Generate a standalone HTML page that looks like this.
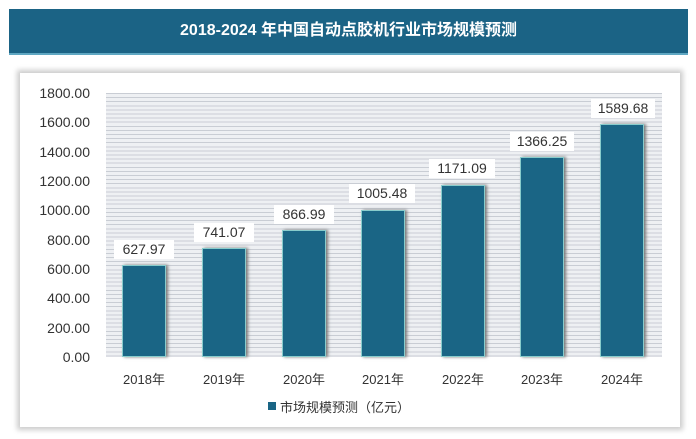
<!DOCTYPE html>
<html><head><meta charset="utf-8"><style>
body{margin:0;width:696px;height:439px;background:#fff;position:relative;overflow:hidden;font-family:"Liberation Sans","Noto Sans CJK SC",sans-serif;}
.title{position:absolute;left:9px;top:9px;width:679px;height:44px;background:#1b6385;border-bottom:2px solid #5fa7c2;color:#fff;font-weight:bold;font-size:16px;text-align:center;line-height:44px;}
.panel{position:absolute;left:20px;top:73px;width:660px;height:354px;background:#fff;box-shadow:0 0 5px 3px #ccc;}
.plot{position:absolute;left:106px;top:93px;width:556px;height:264px;background:repeating-linear-gradient(to bottom,#c9cdd4 0,#c9cdd4 1px,#eef0f3 1px,#eef0f3 4.1px);}
.yl{position:absolute;left:14px;width:76px;text-align:right;font-size:14px;color:#333;}
.bar{position:absolute;width:44px;background:#1a6585;box-shadow:2px 0 3px #777;border:1px solid #8cc;box-sizing:border-box;}
.lab{position:absolute;width:60px;height:19px;background:#fff;text-align:center;font-size:14px;line-height:19px;color:#333;}
.xl{position:absolute;top:369px;width:80px;text-align:center;font-size:13px;color:#333;}
</style></head><body>
<div class="title">2018-2024 年中国自动点胶机行业市场规模预测</div>
<div class="panel"></div>
<div class="plot"></div>
<div class="yl" style="top:85px">1800.00</div>
<div class="yl" style="top:114px">1600.00</div>
<div class="yl" style="top:144px">1400.00</div>
<div class="yl" style="top:173px">1200.00</div>
<div class="yl" style="top:202px">1000.00</div>
<div class="yl" style="top:232px">800.00</div>
<div class="yl" style="top:261px">600.00</div>
<div class="yl" style="top:290px">400.00</div>
<div class="yl" style="top:320px">200.00</div>
<div class="yl" style="top:349px">0.00</div>

<div class="bar" style="left:122px;top:265px;height:92px"></div>
<div class="bar" style="left:202px;top:248px;height:109px"></div>
<div class="bar" style="left:282px;top:230px;height:127px"></div>
<div class="bar" style="left:361px;top:210px;height:147px"></div>
<div class="bar" style="left:441px;top:185px;height:172px"></div>
<div class="bar" style="left:520px;top:157px;height:200px"></div>
<div class="bar" style="left:600px;top:124px;height:233px"></div>

<div class="lab" style="left:114px;top:240px">627.97</div>
<div class="lab" style="left:194px;top:223px">741.07</div>
<div class="lab" style="left:274px;top:205px">866.99</div>
<div class="lab" style="left:349px;top:184px;width:66px">1005.48</div>
<div class="lab" style="left:429px;top:159px;width:66px">1171.09</div>
<div class="lab" style="left:510px;top:132px;width:64px">1366.25</div>
<div class="lab" style="left:591px;top:99px;width:64px">1589.68</div>

<div class="xl" style="left:104px">2018年</div>
<div class="xl" style="left:184px">2019年</div>
<div class="xl" style="left:264px">2020年</div>
<div class="xl" style="left:343px">2021年</div>
<div class="xl" style="left:423px">2022年</div>
<div class="xl" style="left:502px">2023年</div>
<div class="xl" style="left:582px">2024年</div>

<div style="position:absolute;left:268px;top:402px;width:8px;height:8px;background:#1a6585"></div>
<div style="position:absolute;left:280px;top:397px;font-size:13px;color:#333">市场规模预测（亿元）</div>
</body></html>
